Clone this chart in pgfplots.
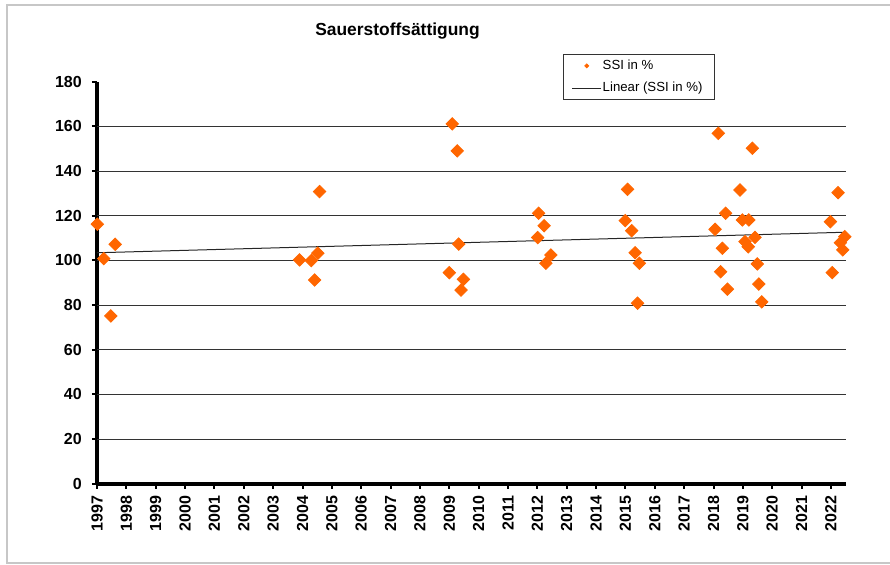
\documentclass[border=0pt]{standalone}
\usepackage{fontspec}
\setmainfont{Liberation Sans}
\usepackage{pgfplots}
\pgfplotsset{compat=1.18}
\definecolor{ssiorange}{HTML}{FF6600}
\begin{document}
\begin{tikzpicture}
\useasboundingbox (-48.5pt,-40.65pt) rectangle (396.5pt,241.85pt);
\draw[black!22, line width=1pt] (-45pt,-39.65pt) rectangle (420pt,239.35pt);
\begin{axis}[
  at={(0pt,0pt)}, anchor=south west,
  scale only axis, width=374.5pt, height=201pt,
  xmin=1997, xmax=2022.51, ymin=0, ymax=180,
  axis lines*=left,
  axis line style={line width=2pt, black},
  xtick={1997,...,2022},
  ytick={0,20,...,180},
  tick align=outside,
  major tick length=2.6pt,
  major tick style={black, line width=1pt},
  tick label style={font=\bfseries\fontsize{8}{9.6}\selectfont},
  xticklabel style={rotate=90, anchor=east},
  yticklabel style={xshift=-1.5pt},
  /pgf/number format/1000 sep={},
  /pgf/number format/assume math mode=true,
  extra y ticks={20,40,...,160},
  extra y tick labels={},
  extra y tick style={grid=major, major tick length=0pt},
  major grid style={line width=0.5pt, black!80},
  clip=false,
  legend cell align=left,
  legend style={at={(0.6226,1.0689)}, anchor=north west, draw=black!80, thin,
    font=\fontsize{6.6}{8}\selectfont, inner xsep=4pt, inner ysep=0.6pt,
    row sep=0.9pt, column sep=-1.5pt,
    cells={inner xsep=0.5pt, inner ysep=1pt}},
]
\addplot[only marks, mark=square*, mark size=2.2pt,
  mark options={rotate=45, ssiorange, draw=ssiorange, fill=ssiorange},
  legend image code/.code={\path (0pt,0pt) (14.5pt,0pt);
    \fill[ssiorange] (7.25pt,1pt)--(8.25pt,0pt)--(7.25pt,-1pt)--(6.25pt,0pt)--cycle;}]
  table {
x y
1997.01 116.2
1997.23 100.8
1997.47 75.1
1997.62 107.2
2003.90 100.2
2004.30 99.9
2004.41 91.2
2004.52 103.2
2004.58 130.8
2009.10 161.1
2009.27 149.0
2009.00 94.5
2009.32 107.3
2009.48 91.5
2009.40 86.7
2012.04 121.1
2012.23 115.5
2012.01 110.2
2012.46 102.4
2012.29 98.7
2015.07 131.8
2014.99 117.8
2015.21 113.3
2015.33 103.4
2015.47 98.7
2015.41 80.8
2018.16 156.9
2019.32 150.2
2018.90 131.5
2018.41 121.1
2018.98 118.1
2019.20 118.1
2018.05 113.9
2019.41 110.3
2019.07 108.4
2019.18 106.1
2018.30 105.4
2019.49 98.4
2018.24 94.9
2019.54 89.4
2018.47 87.1
2019.64 81.4
2022.24 130.3
2021.98 117.3
2022.47 110.6
2022.32 107.9
2022.40 104.7
2022.04 94.5
  };
\addlegendentry{SSI in \%}
\addplot[black!85, line width=0.5pt,
  legend image code/.code={\draw[black!85, line width=0.5pt] (0pt,0pt)--(14.5pt,0pt);}]
  coordinates {(1997,103.4) (2022.51,112.6)};
\addlegendentry{Linear (SSI in \%)}
\end{axis}
\node[font=\bfseries\fontsize{8.7}{10.4}\selectfont] at (150.25pt,226.35pt) {Sauerstoffsättigung};
\end{tikzpicture}
\end{document}
